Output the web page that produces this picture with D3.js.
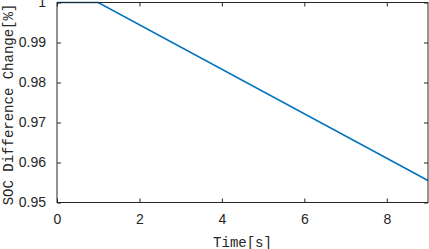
<!DOCTYPE html>
<html lang="en">
<head>
  <meta charset="UTF-8">
  <title>SOC Difference Change</title>
  <script src="https://cdn.jsdelivr.net/npm/d3@7"></script>
  <style>
    body { margin: 0; background: #fff; }
    .tick text { font-family: "Liberation Sans", Arial, sans-serif; font-size: 14px; fill: #262626; }
    .lbl { font-family: "Liberation Mono", "DejaVu Sans Mono", monospace; font-size: 14px; fill: #262626; }
  </style>
</head>
<body>
<div id="app"></div>
<script>
  // series: time [s] vs SOC difference change
  const timeVals = [0, 1, 9];
  const socVals = [1, 1, 0.9555];
  const xTicks = [0, 2, 4, 6, 8];
  const yTicks = [0.95, 0.96, 0.97, 0.98, 0.99, 1];

  const w = 429, h = 249;
  const plotL = 57, plotR = 428, plotT = 2.5, plotB = 202.5;
  const axisColor = '#262626';

  const svg = d3.select('#app').append('svg')
    .attr('width', w)
    .attr('height', h);

  const x = d3.scaleLinear().domain([0, 9]).range([plotL, plotR]);
  const y = d3.scaleLinear().domain([0.95, 1]).range([plotB, plotT]);

  // line
  const line = d3.line().x((d, i) => x(timeVals[i])).y(d => y(d));
  svg.append('path')
    .datum(socVals)
    .attr('fill', 'none')
    .attr('stroke', '#0072BD')
    .attr('stroke-width', 1.5)
    .attr('d', line);

  // axes (ticks pointing inward like matlab)
  const styleAxis = g => {
    g.select('.domain').remove();
    g.selectAll('.tick line').attr('stroke', axisColor);
  };
  svg.append('g')
    .attr('transform', `translate(0,${plotB})`)
    .call(d3.axisBottom(x).tickValues(xTicks).tickSizeInner(-4).tickSizeOuter(0).tickPadding(12))
    .call(styleAxis);
  svg.append('g')
    .attr('transform', `translate(0,${plotT})`)
    .call(d3.axisTop(x).tickValues(xTicks).tickSizeInner(-4).tickSizeOuter(0).tickFormat(''))
    .call(styleAxis);
  svg.append('g')
    .attr('transform', `translate(${plotL},0)`)
    .call(d3.axisLeft(y).tickValues(yTicks).tickSizeInner(-4).tickSizeOuter(0).tickPadding(11).tickFormat(d => d === 1 ? '1' : d3.format('.2f')(d)))
    .call(styleAxis);
  svg.append('g')
    .attr('transform', `translate(${plotR},0)`)
    .call(d3.axisRight(y).tickValues(yTicks).tickSizeInner(-4).tickSizeOuter(0).tickFormat(''))
    .call(styleAxis);

  // box
  svg.append('rect')
    .attr('x', plotL).attr('y', plotT)
    .attr('width', plotR - plotL).attr('height', plotB - plotT)
    .attr('fill', 'none')
    .attr('stroke', axisColor)
    .attr('stroke-width', 1);

  // axis labels
  svg.append('text')
    .attr('class', 'lbl')
    .attr('x', (plotL + plotR) / 2)
    .attr('y', 246.5)
    .attr('text-anchor', 'middle')
    .text('Time[s]');
  svg.append('text')
    .attr('class', 'lbl')
    .attr('transform', `translate(13,${(plotT + plotB) / 2 + 2}) rotate(-90)`)
    .attr('text-anchor', 'middle')
    .text('SOC Difference Change[%]');
</script>
</body>
</html>
